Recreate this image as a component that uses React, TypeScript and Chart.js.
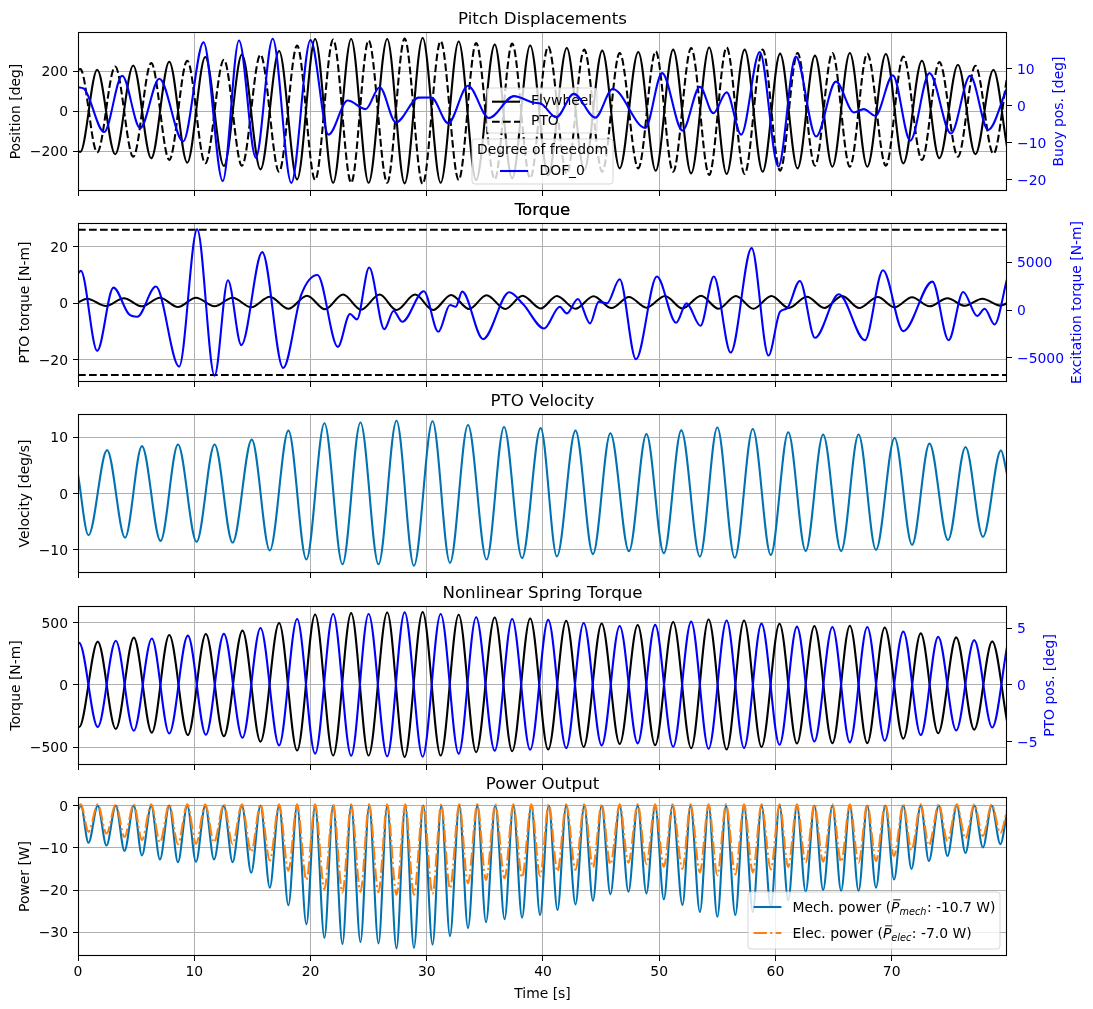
import React, { useEffect, useRef } from "react";
import { Chart, registerables } from "chart.js";

Chart.register(...registerables);

// ------------------------------------------------------------------ data
const X_MAX = 79.92;
const X_TICKS = [0, 10, 20, 30, 40, 50, 60, 70];

// Panel 1 : Pitch displacements (extrema)
const pitchT = [0, 0.2, 1.65, 3.2, 4.75, 6.3, 7.85, 9.4, 10.95, 12.55, 14.1, 15.7, 17.3, 18.85, 20.4, 21.95, 23.5, 25.0, 26.6, 28.1, 29.65, 31.2, 32.75, 34.25, 35.85, 37.35, 38.9, 40.45, 42.05, 43.55, 45.1, 46.6, 48.2, 49.7, 51.2, 52.75, 54.3, 55.8, 57.35, 58.9, 60.4, 61.9, 63.4, 64.9, 66.4, 67.9, 69.5, 71.0, 72.6, 74.1, 75.7, 77.2, 78.75, 79.92];
const flywheelPos = [-200, -203, 207, -215, 228, -235, 247, -257, 270, -273, 282, -290, 300, -340, 360, -357, 360, -357, 360, -360, 365, -357, 348, -343, 332, -335, 328, -320, 315, -293, 302, -285, 295, -297, 307, -310, 318, -313, 307, -302, 287, -285, 277, -277, 290, -277, 285, -260, 252, -235, 232, -215, 207, -177];
const ptoPos = [207, 210, -205, 223, -227, 240, -243, 252, -260, 257, -272, 282, -302, 328, -343, 357, -357, 353, -357, 363, -363, 350, -343, 340, -340, 337, -335, 323, -313, 307, -302, 290, -285, 298, -302, 315, -318, 318, -313, 307, -297, 290, -272, 290, -277, 287, -272, 273, -243, 245, -227, 227, -213, 165];
const buoyT = [0, 0.5, 2.25, 3.8, 5.35, 7.0, 9.05, 10.8, 12.45, 13.85, 15.3, 16.75, 18.35, 20.0, 21.55, 23.2, 24.75, 25.95, 27.35, 29.3, 30.4, 31.85, 33.55, 35.35, 37.5, 39.25, 39.8, 41.15, 42.65, 44.5, 46.0, 48.8, 50.25, 52.0, 53.5, 54.65, 55.8, 57.05, 58.65, 60.25, 61.75, 63.5, 65.2, 66.75, 67.6, 68.6, 70.1, 71.6, 73.25, 75.1, 76.75, 78.3, 79.92];
const buoyPos = [4.95, 4.6, -7.1, 8.1, -6.0, 7.3, -9.6, 17.1, -20.3, 17.6, -14.0, 18.1, -20.8, 17.7, -7.8, 1.4, -0.9, 5.0, -4.5, 2.2, 2.25, -4.7, 5.4, -3.3, 2.6, 0.8, 0.6, -3.1, 3.2, -3.2, 4.5, -6.0, 8.8, -6.7, 5.1, -2.0, 3.6, -7.8, 14.5, -16.4, 13.3, -8.3, 6.5, -1.8, -0.9, -2.7, 8.2, -9.4, 8.8, -7.5, 8.1, -6.5, 4.8];

// Panel 2 : Torque
const ptoTorqueT = [0, 0.8, 2.4, 3.95, 5.5, 7.05, 8.6, 10.15, 11.75, 13.3, 14.9, 16.5, 18.1, 19.7, 21.25, 22.8, 24.35, 25.95, 27.4, 29.0, 30.55, 32.1, 33.65, 35.15, 36.75, 38.25, 39.8, 41.2, 42.8, 44.35, 45.9, 47.4, 48.9, 50.5, 52.0, 53.6, 55.1, 56.6, 58.1, 59.65, 61.15, 62.7, 64.2, 65.75, 67.2, 68.8, 70.25, 71.75, 73.25, 74.8, 76.3, 77.8, 79.35, 79.92];
const ptoTorque = [0.35, 1.65, -0.95, 1.8, -1.05, 2.0, -1.3, 2.0, -1.05, 2.0, -1.4, 2.35, -1.9, 2.7, -2.1, 3.1, -2.25, 3.1, -2.35, 3.1, -2.35, 2.95, -2.0, 2.85, -2.0, 2.7, -1.8, 2.6, -1.9, 2.5, -1.65, 2.25, -1.55, 2.6, -1.8, 2.7, -1.9, 2.6, -1.9, 2.6, -1.65, 2.35, -1.65, 2.6, -1.65, 2.25, -1.4, 2.15, -1.05, 1.8, -0.85, 1.65, -0.8, 0];
const ptoTorqueLimits = [26.0, -25.3];
const excT = [0, 0.25, 1.65, 3.05, 4.35, 5.1, 6.7, 8.7, 10.25, 11.75, 12.9, 14.05, 15.85, 17.65, 19.2, 20.6, 22.35, 23.4, 24.0, 25.05, 26.35, 27.15, 27.9, 29.75, 31.0, 32.0, 32.5, 33.05, 34.85, 37.1, 38.3, 40.1, 41.45, 42.05, 43.0, 44.05, 44.8, 45.5, 46.6, 48.0, 49.8, 51.45, 52.35, 53.55, 54.7, 56.15, 57.95, 59.4, 60.4, 61.0, 62.1, 63.4, 65.45, 67.7, 69.25, 71.0, 73.5, 74.9, 76.15, 77.35, 78.0, 78.85, 79.92];
const excTorque = [3860, 4105, -4280, 2350, -390, -700, 2460, -5930, 8456, -6877, 3120, -3680, 6070, -6070, 1580, 3680, -3860, -420, -980, 4456, -2000, -105, -1230, 1965, -2280, 530, 350, 1930, -3050, 1860, 600, -1930, 350, -350, 1160, -1400, 880, 700, 3230, -5160, 3510, -1330, 700, -1650, 3510, -4460, 6490, -4770, -175, 175, 3050, -2910, 1650, -3160, 4175, -2210, 2980, -3160, 1895, -630, 140, -1510, 3230];

// Panel 3 : PTO velocity
const velT = [0, 0.9, 2.5, 4.05, 5.5, 7.1, 8.6, 10.2, 11.75, 13.3, 14.95, 16.5, 18.1, 19.65, 21.2, 22.75, 24.3, 25.85, 27.4, 28.9, 30.5, 32.0, 33.55, 35.15, 36.65, 38.2, 39.8, 41.2, 42.8, 44.3, 45.8, 47.4, 48.9, 50.4, 51.9, 53.5, 55.0, 56.5, 58.05, 59.6, 61.1, 62.6, 64.1, 65.65, 67.15, 68.65, 70.25, 71.75, 73.25, 74.85, 76.35, 77.85, 79.4, 79.92];
const velocity = [3.4, -7.4, 7.7, -7.85, 8.4, -8.4, 8.7, -8.55, 8.7, -8.7, 9.55, -10.1, 11.15, -11.7, 12.45, -12.55, 12.6, -12.55, 12.9, -12.8, 12.8, -12.3, 12.15, -11.7, 11.8, -11.45, 11.6, -11.15, 11.15, -10.75, 10.7, -10.25, 10.55, -10.6, 11.2, -11.2, 11.7, -11.4, 11.45, -10.9, 10.85, -10.2, 10.45, -10.2, 10.45, -10.0, 9.85, -9.1, 8.85, -8.25, 8.25, -7.7, 7.65, 3.5];

// Panel 4 : Nonlinear spring torque
const springT = [0, 0.1, 1.7, 3.25, 4.8, 6.35, 7.85, 9.45, 11.0, 12.55, 14.15, 15.7, 17.3, 18.85, 20.4, 21.95, 23.5, 25.0, 26.6, 28.1, 29.65, 31.2, 32.75, 34.25, 35.85, 37.35, 38.9, 40.45, 42.0, 43.5, 45.05, 46.6, 48.15, 49.65, 51.2, 52.75, 54.25, 55.8, 57.3, 58.8, 60.35, 61.85, 63.35, 64.9, 66.4, 67.9, 69.4, 71.0, 72.5, 74.0, 75.55, 77.1, 78.65, 79.92];
const springTorque = [-333, -339, 347, -355, 379, -384, 400, -403, 408, -413, 435, -456, 496, -528, 565, -568, 576, -568, 581, -579, 584, -568, 563, -541, 541, -533, 533, -520, 515, -499, 493, -475, 480, -485, 504, -509, 525, -520, 517, -499, 491, -472, 472, -469, 475, -469, 461, -432, 413, -389, 381, -360, 349, -293];
const springPtoPos = [3.64, 3.7, -3.7, 3.88, -4.02, 4.08, -4.26, 4.34, -4.37, 4.49, -4.64, 5.01, -5.31, 5.8, -6.03, 6.24, -6.21, 6.24, -6.27, 6.38, -6.3, 6.24, -6.03, 5.95, -5.77, 5.8, -5.69, 5.72, -5.54, 5.45, -5.31, 5.19, -5.13, 5.28, -5.42, 5.57, -5.6, 5.66, -5.54, 5.39, -5.25, 5.13, -4.96, 5.1, -5.04, 5.1, -4.9, 4.69, -4.4, 4.23, -3.99, 3.94, -3.73, 3.35];

// Panel 5 : Power output
const powerPeakT = [0.25, 1.7, 3.25, 4.8, 6.3, 7.85, 9.4, 10.95, 12.55, 14.1, 15.7, 17.3, 18.85, 20.4, 21.95, 23.5, 25.05, 26.6, 28.15, 29.7, 31.25, 32.8, 34.35, 35.9, 37.45, 39.0, 40.5, 42.0, 43.55, 45.05, 46.6, 48.15, 49.65, 51.15, 52.7, 54.25, 55.75, 57.3, 58.8, 60.35, 61.85, 63.35, 64.9, 66.4, 67.9, 69.45, 71.0, 72.5, 74.05, 75.6, 77.1, 78.6];
const powerTroughT = [0.9, 2.45, 4.0, 5.5, 7.05, 8.6, 10.15, 11.7, 13.3, 14.9, 16.5, 18.1, 19.65, 21.2, 22.75, 24.3, 25.85, 27.4, 28.9, 30.5, 32.0, 33.55, 35.1, 36.7, 38.2, 39.75, 41.25, 42.8, 44.3, 45.8, 47.35, 48.9, 50.4, 52.0, 53.5, 55.0, 56.55, 58.05, 59.6, 61.1, 62.6, 64.1, 65.65, 67.15, 68.65, 70.2, 71.7, 73.2, 74.8, 76.35, 77.85, 79.35];
const mechTrough = [-8.8, -9.45, -10.7, -11.8, -12.75, -13.4, -13.3, -12.75, -13.4, -15.9, -19.4, -23.6, -28.1, -31.3, -32.75, -32.3, -32.6, -33.8, -33.7, -32.9, -30.9, -29.0, -27.6, -26.9, -26.5, -25.9, -24.7, -23.4, -22.5, -21.0, -20.4, -20.8, -22.2, -23.5, -25.2, -26.3, -25.9, -25.2, -24.0, -22.4, -20.4, -20.0, -20.2, -20.2, -19.4, -17.5, -15.0, -13.1, -11.9, -11.2, -9.9, -9.1];
const elecTrough = [-6.2, -6.6, -7.4, -8.1, -8.7, -9.1, -9.0, -8.7, -9.1, -11.0, -13.0, -15.4, -17.6, -19.8, -20.6, -20.4, -20.5, -21.1, -21.1, -20.8, -19.6, -18.4, -17.6, -17.2, -17.0, -16.7, -15.6, -15.2, -14.6, -13.9, -13.5, -13.8, -14.5, -15.0, -15.8, -16.5, -16.3, -15.8, -15.1, -14.5, -13.5, -13.3, -13.3, -13.5, -13.1, -11.9, -10.6, -9.4, -8.4, -7.8, -7.2, -6.5];
const mechPeak = 0;
const elecPeak = 0.3;
const mechEnds = [-1.0, -1.7];
const elecEnds = [-0.4, -1.0];
const MECH_MEAN = "-10.7";
const ELEC_MEAN = "-7.0";

// ------------------------------------------------------------------ style / layout
const FONT = '"DejaVu Sans", "Liberation Sans", sans-serif';
const FS = 13.9;
const TITLE_FS = 16.67;
const PAGE_W = 1093;
const LEFT = 78;
const RIGHT = 1007;
const PANEL_H = 159;
const HEAD = 32;
const PANEL_TOPS = [32, 223, 414, 606, 797];
const GRID = "#b0b0b0";
const LW = 2.08;
const DASH = [7.7, 3.3];
const DASHDOT = [13.3, 3.3, 2.1, 3.3];
const BLUE = "#0000ff";
const C_MECH = "#0072b2";
const C_ELEC = "#ff7f0e";

const fmt = (v: number) => (v < 0 ? "\u2212" + Math.abs(v) : String(v));
const pts = (t: number[], v: number[]) => t.map((x, i) => ({ x, y: v[i] }));

function powerSeries(peak: number, troughs: number[], ends: number[]) {
  const out: { x: number; y: number }[] = [{ x: 0, y: ends[0] }];
  powerPeakT.forEach((t) => out.push({ x: t, y: peak }));
  powerTroughT.forEach((t, i) => out.push({ x: t, y: troughs[i] }));
  out.push({ x: X_MAX, y: ends[1] });
  out.sort((a, b) => a.x - b.x);
  return out;
}

const line = (data: any[], color: string, axis: string, dash?: number[]) => ({
  data,
  borderColor: color,
  borderWidth: LW,
  borderDash: dash || [],
  yAxisID: axis,
  pointRadius: 0,
  cubicInterpolationMode: "monotone",
  fill: false,
});

// ------------------------------------------------------------------ drawing helpers
function box(ctx: any, x0: number, y0: number, x1: number, y1: number) {
  const r = 3;
  ctx.save();
  ctx.beginPath();
  ctx.moveTo(x0 + r, y0);
  ctx.lineTo(x1 - r, y0);
  ctx.arcTo(x1, y0, x1, y0 + r, r);
  ctx.lineTo(x1, y1 - r);
  ctx.arcTo(x1, y1, x1 - r, y1, r);
  ctx.lineTo(x0 + r, y1);
  ctx.arcTo(x0, y1, x0, y1 - r, r);
  ctx.lineTo(x0, y0 + r);
  ctx.arcTo(x0, y0, x0 + r, y0, r);
  ctx.closePath();
  ctx.fillStyle = "rgba(255,255,255,0.8)";
  ctx.fill();
  ctx.strokeStyle = "rgba(204,204,204,0.8)";
  ctx.lineWidth = 1;
  ctx.stroke();
  ctx.restore();
}
function handle(ctx: any, x0: number, x1: number, y: number, color: string, dash?: number[]) {
  ctx.save();
  ctx.beginPath();
  ctx.setLineDash(dash || []);
  ctx.strokeStyle = color;
  ctx.lineWidth = LW;
  ctx.moveTo(x0, y);
  ctx.lineTo(x1, y);
  ctx.stroke();
  ctx.restore();
}
function text(ctx: any, s: string, x: number, y: number, align = "left", color = "#000", size = FS) {
  ctx.save();
  ctx.font = `${size}px ${FONT}`;
  ctx.fillStyle = color;
  ctx.textAlign = align;
  ctx.textBaseline = "middle";
  ctx.fillText(s, x, y);
  ctx.restore();
}
function mathLabel(ctx: any, pre: string, sub: string, post: string, x: number, y: number) {
  ctx.save();
  ctx.fillStyle = "#000";
  ctx.textAlign = "left";
  ctx.textBaseline = "alphabetic";
  ctx.font = `${FS}px ${FONT}`;
  ctx.fillText(pre, x, y);
  x += ctx.measureText(pre).width;
  ctx.font = `italic ${FS}px ${FONT}`;
  const pw = ctx.measureText("P").width;
  ctx.fillText("P", x, y);
  ctx.fillRect(x + 2.2, y - 12.6, pw - 1.2, 0.9);
  x += pw;
  ctx.font = `italic ${FS * 0.7}px ${FONT}`;
  ctx.fillText(sub, x, y + 3.2);
  x += ctx.measureText(sub).width + 0.5;
  ctx.font = `${FS}px ${FONT}`;
  ctx.fillText(post, x, y);
  ctx.restore();
}

// legends (page coordinates)
function pitchLegendMain(ctx: any) {
  box(ctx, 487, 88, 597, 133);
  handle(ctx, 492, 520, 101.7, "#000");
  text(ctx, "Flywheel", 531, 101.7);
  handle(ctx, 492, 520, 121.7, "#000", DASH);
  text(ctx, "PTO", 531, 121.7);
}
function pitchLegendDof(ctx: any) {
  box(ctx, 472, 139, 613, 184);
  text(ctx, "Degree of freedom", 542.5, 150.5, "center");
  handle(ctx, 500, 528, 171, BLUE);
  text(ctx, "DOF_0", 539.5, 171);
}
function powerLegend(ctx: any) {
  box(ctx, 748, 892, 1000, 949);
  handle(ctx, 753.6, 781.4, 907, C_MECH);
  mathLabel(ctx, "Mech. power (", "mech", `: ${MECH_MEAN} W)`, 792.5, 912);
  handle(ctx, 753.6, 781.4, 933, C_ELEC, DASHDOT);
  mathLabel(ctx, "Elec. power (", "elec", `: ${ELEC_MEAN} W)`, 792.5, 938);
}

// ------------------------------------------------------------------ panels
const PANELS: any[] = [
  {
    title: "Pitch Displacements",
    leftLabel: "Position [deg]",
    leftRange: [-398, 395],
    leftTicks: [-200, 0, 200],
    rightLabel: "Buoy pos. [deg]",
    rightRange: [-23.0, 19.9],
    rightTicks: [-20, -10, 0, 10],
    datasets: [
      line(pts(buoyT, buoyPos), BLUE, "y2"),
      line(pts(pitchT, ptoPos), "#000", "y", DASH),
      line(pts(pitchT, flywheelPos), "#000", "y"),
    ],
    midIndex: 1,
    midDraw: pitchLegendMain,
    topDraw: pitchLegendDof,
  },
  {
    title: "Torque",
    titleTwice: true,
    leftLabel: "PTO torque [N-m]",
    leftRange: [-27.8, 28.4],
    leftTicks: [-20, 0, 20],
    rightLabel: "Excitation torque [N-m]",
    rightRange: [-7544, 9123],
    rightTicks: [-5000, 0, 5000],
    datasets: [
      line(pts(excT, excTorque), BLUE, "y2"),
      line(pts([0, X_MAX], [ptoTorqueLimits[0], ptoTorqueLimits[0]]), "#000", "y", DASH),
      line(pts([0, X_MAX], [ptoTorqueLimits[1], ptoTorqueLimits[1]]), "#000", "y", DASH),
      line(pts(ptoTorqueT, ptoTorque), "#000", "y"),
    ],
  },
  {
    title: "PTO Velocity",
    leftLabel: "Velocity [deg/s]",
    leftRange: [-14.1, 14.1],
    leftTicks: [-10, 0, 10],
    datasets: [line(pts(velT, velocity), C_MECH, "y")],
  },
  {
    title: "Nonlinear Spring Torque",
    leftLabel: "Torque [N-m]",
    leftRange: [-644, 633],
    leftTicks: [-500, 0, 500],
    rightLabel: "PTO pos. [deg]",
    rightRange: [-7.03, 6.94],
    rightTicks: [-5, 0, 5],
    datasets: [
      line(pts(springT, springPtoPos), BLUE, "y2"),
      line(pts(springT, springTorque), "#000", "y"),
    ],
  },
  {
    title: "Power Output",
    leftLabel: "Power [W]",
    leftRange: [-35.6, 2.05],
    leftTicks: [-30, -20, -10, 0],
    xLabel: "Time [s]",
    datasets: [
      line(powerSeries(elecPeak, elecTrough, elecEnds), C_ELEC, "y", DASHDOT),
      line(powerSeries(mechPeak, mechTrough, mechEnds), C_MECH, "y"),
    ],
    topDraw: powerLegend,
  },
];

function Panel({ def, index }: { def: any; index: number }) {
  const ref = useRef<HTMLCanvasElement>(null);
  const showX = !!def.xLabel;
  // bottom box must be at least as tall as the y-axis label padding (half label + tick padding)
  const xH = showX ? 53 : 16;
  const height = HEAD + PANEL_H + xH;
  const top = PANEL_TOPS[index] - HEAD;

  useEffect(() => {
    const canvas = ref.current;
    if (!canvas) return;
    const tickFont = { family: FONT, size: FS };
    const scales: any = {
      x: {
        type: "linear",
        min: 0,
        max: X_MAX,
        afterBuildTicks: (s: any) => {
          s.ticks = X_TICKS.map((v) => ({ value: v }));
        },
        afterFit: (s: any) => {
          s.height = xH;
        },
        grid: { color: GRID, lineWidth: 1, drawTicks: true, tickLength: 5, tickColor: "#000", tickWidth: 1 },
        border: { display: false },
        ticks: {
          display: showX,
          autoSkip: false,
          maxRotation: 0,
          minRotation: 0,
          padding: 3,
          color: "#000",
          font: tickFont,
          callback: (v: any) => fmt(Number(v)),
        },
      },
      y: {
        type: "linear",
        position: "left",
        min: def.leftRange[0],
        max: def.leftRange[1],
        afterBuildTicks: (s: any) => {
          s.ticks = def.leftTicks.map((v: number) => ({ value: v }));
        },
        afterFit: (s: any) => {
          s.width = LEFT;
        },
        grid: { color: GRID, lineWidth: 1, drawTicks: true, tickLength: 5, tickColor: "#000", tickWidth: 1 },
        border: { display: false },
        ticks: {
          autoSkip: false,
          padding: 5,
          labelOffset: 1.5,
          color: "#000",
          font: tickFont,
          callback: (v: any) => fmt(Number(v)),
        },
      },
    };
    if (def.rightLabel) {
      scales.y2 = {
        type: "linear",
        position: "right",
        min: def.rightRange[0],
        max: def.rightRange[1],
        afterBuildTicks: (s: any) => {
          s.ticks = def.rightTicks.map((v: number) => ({ value: v }));
        },
        afterFit: (s: any) => {
          s.width = PAGE_W - RIGHT;
        },
        grid: { drawOnChartArea: false, drawTicks: true, tickLength: 5, tickColor: "#000", tickWidth: 1, color: GRID },
        border: { display: false },
        ticks: {
          autoSkip: false,
          padding: 5,
          labelOffset: 1.5,
          color: BLUE,
          font: tickFont,
          callback: (v: any) => fmt(Number(v)),
        },
      };
    }

    const deco = {
      id: "deco" + index,
      afterDatasetDraw(chart: any, args: any) {
        if (def.midDraw && args.index === def.midIndex) {
          const ctx = chart.ctx;
          ctx.save();
          ctx.translate(0, -top);
          def.midDraw(ctx);
          ctx.restore();
        }
      },
      afterDatasetsDraw(chart: any) {
        const ctx = chart.ctx;
        const a = chart.chartArea;
        ctx.save();
        ctx.strokeStyle = "#000";
        ctx.lineWidth = 1.1;
        ctx.setLineDash([]);
        ctx.strokeRect(a.left + 0.5, a.top + 0.5, a.right - a.left - 1, a.bottom - a.top - 1);
        ctx.restore();
        if (def.topDraw) {
          ctx.save();
          ctx.translate(0, -top);
          def.topDraw(ctx);
          ctx.restore();
        }
      },
      afterDraw(chart: any) {
        const ctx = chart.ctx;
        const a = chart.chartArea;
        const cx = (a.left + a.right) / 2;
        const cy = (a.top + a.bottom) / 2;
        ctx.save();
        ctx.font = `${TITLE_FS}px ${FONT}`;
        ctx.fillStyle = "#000";
        ctx.textAlign = "center";
        ctx.textBaseline = "alphabetic";
        ctx.fillText(def.title, cx, a.top - 8.3);
        if (def.titleTwice) ctx.fillText(def.title, cx, a.top - 8.3);
        ctx.font = `${FS}px ${FONT}`;
        const lw = Math.max(...def.leftTicks.map((v: number) => ctx.measureText(fmt(v)).width));
        const lx = a.left - 9.72 - lw - 5.56 - 8.1;
        ctx.restore();
        const ylab = (s: string, x: number, color: string) => {
          ctx.save();
          ctx.translate(x, cy);
          ctx.rotate(-Math.PI / 2);
          ctx.font = `${FS}px ${FONT}`;
          ctx.fillStyle = color;
          ctx.textAlign = "center";
          ctx.textBaseline = "middle";
          ctx.fillText(s, 0, 0);
          ctx.restore();
        };
        ylab(def.leftLabel, lx, "#000");
        if (def.rightLabel) {
          ctx.save();
          ctx.font = `${FS}px ${FONT}`;
          const rw = Math.max(...def.rightTicks.map((v: number) => ctx.measureText(fmt(v)).width));
          ctx.restore();
          ylab(def.rightLabel, a.right + 9.72 + rw + 5.56 + 8.1, BLUE);
        }
        if (def.xLabel) {
          ctx.save();
          ctx.font = `${FS}px ${FONT}`;
          ctx.fillStyle = "#000";
          ctx.textAlign = "center";
          ctx.textBaseline = "alphabetic";
          ctx.fillText(def.xLabel, cx, 998 - top);
          ctx.restore();
        }
      },
    };

    const chart = new Chart(canvas, {
      type: "line",
      data: { datasets: def.datasets },
      options: {
        animation: false,
        responsive: false,
        devicePixelRatio: 1,
        events: [],
        parsing: false,
        normalized: true,
        layout: {
          padding: { top: HEAD, left: 0, bottom: 0, right: def.rightLabel ? 0 : PAGE_W - RIGHT },
        },
        plugins: {
          legend: { display: false },
          tooltip: { enabled: false },
          title: { display: false },
        },
        elements: { point: { radius: 0 }, line: { borderCapStyle: "butt", borderJoinStyle: "round" } },
        scales,
      } as any,
      plugins: [deco],
    } as any);
    return () => chart.destroy();
  }, []);

  return (
    <canvas
      ref={ref}
      width={PAGE_W}
      height={height}
      style={{ position: "absolute", left: 0, top, width: PAGE_W, height }}
    />
  );
}

export default function App() {
  useEffect(() => {
    document.body.style.overflow = "hidden";
  }, []);
  return (
    <div style={{ position: "absolute", left: 0, top: 0, width: PAGE_W, height: 1009, background: "#fff" }}>
      {PANELS.map((p, i) => (
        <Panel key={i} def={p} index={i} />
      ))}
    </div>
  );
}
